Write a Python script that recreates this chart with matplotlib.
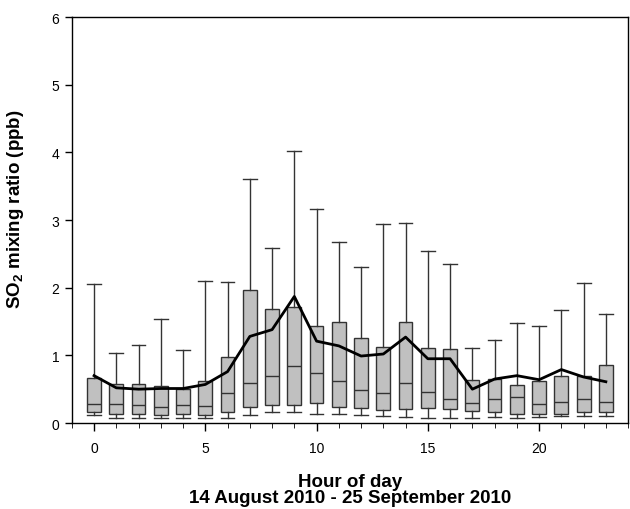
import matplotlib
matplotlib.use("Agg")
import matplotlib.pyplot as plt
from matplotlib.ticker import MultipleLocator

plt.rcParams["font.family"] = ["Liberation Sans", "DejaVu Sans"]
plt.rcParams["mathtext.fontset"] = "custom"
plt.rcParams["mathtext.bf"] = "Liberation Sans:bold"
plt.rcParams["mathtext.rm"] = "Liberation Sans:bold"

# hourly SO2 statistics (ppb)
hours = list(range(24))
whisker_low = [0.12, 0.08, 0.08, 0.07, 0.07, 0.08, 0.07, 0.12, 0.17, 0.16, 0.14, 0.13,
               0.12, 0.11, 0.09, 0.07, 0.07, 0.08, 0.09, 0.08, 0.09, 0.10, 0.10, 0.10]
q1 = [0.16, 0.14, 0.13, 0.12, 0.13, 0.12, 0.17, 0.23, 0.26, 0.26, 0.29, 0.24,
      0.22, 0.19, 0.21, 0.22, 0.20, 0.18, 0.16, 0.13, 0.14, 0.14, 0.17, 0.16]
median = [0.28, 0.28, 0.27, 0.23, 0.27, 0.25, 0.44, 0.59, 0.69, 0.85, 0.74, 0.62,
          0.49, 0.44, 0.59, 0.46, 0.36, 0.30, 0.35, 0.38, 0.28, 0.31, 0.35, 0.31]
q3 = [0.67, 0.58, 0.58, 0.55, 0.51, 0.62, 0.98, 1.97, 1.68, 1.71, 1.43, 1.49,
      1.26, 1.13, 1.49, 1.11, 1.09, 0.64, 0.65, 0.56, 0.62, 0.70, 0.69, 0.86]
whisker_high = [2.06, 1.04, 1.15, 1.54, 1.08, 2.10, 2.09, 3.61, 2.58, 4.02, 3.17, 2.68,
                2.30, 2.94, 2.96, 2.54, 2.35, 1.11, 1.23, 1.48, 1.44, 1.67, 2.07, 1.61]
mean = [0.70, 0.52, 0.50, 0.51, 0.51, 0.57, 0.76, 1.28, 1.38, 1.87, 1.21, 1.14,
        0.99, 1.02, 1.27, 0.95, 0.95, 0.50, 0.65, 0.70, 0.64, 0.79, 0.68, 0.61]

stats = []
for i in range(len(hours)):
    stats.append({"med": median[i], "q1": q1[i], "q3": q3[i],
                  "whislo": whisker_low[i], "whishi": whisker_high[i], "fliers": []})

fig = plt.figure(figsize=(6.3, 5.1), dpi=100)
ax = fig.add_axes([0.114, 0.1686, 0.883, 0.796])

edge = "#333333"
ax.bxp(stats, positions=hours, widths=0.62, patch_artist=True, showfliers=False,
       boxprops=dict(facecolor="#c0c0c0", edgecolor=edge, linewidth=1.0),
       medianprops=dict(color=edge, linewidth=1.0),
       whiskerprops=dict(color=edge, linewidth=1.0),
       capprops=dict(color=edge, linewidth=1.0),
       capwidths=0.62, manage_ticks=False)

ax.plot(hours, mean, color="black", linewidth=2.0, zorder=5)

ax.set_xlim(-1, 24)
ax.set_ylim(0, 6)
ax.xaxis.set_major_locator(MultipleLocator(5))
ax.xaxis.set_minor_locator(MultipleLocator(1))
ax.set_xticks([0, 5, 10, 15, 20])
ax.set_yticks(range(7))
ax.tick_params(axis="both", direction="out", labelsize=10, width=1.0)
ax.tick_params(axis="x", which="major", length=6, pad=7)
ax.tick_params(axis="x", which="minor", length=3.5)
ax.tick_params(axis="y", length=5, pad=4)

for s in ax.spines.values():
    s.set_linewidth(1.0)

ax.set_xlabel("Hour of day\n14 August 2010 - 25 September 2010",
              fontsize=13.5, fontweight="bold", labelpad=13, linespacing=0.95)
ax.set_ylabel(r"SO$_\mathbf{2}$ mixing ratio (ppb)", fontsize=13.5, fontweight="bold")
ax.yaxis.set_label_coords(-0.083, 0.53)

plt.savefig("out.png", dpi=100)
